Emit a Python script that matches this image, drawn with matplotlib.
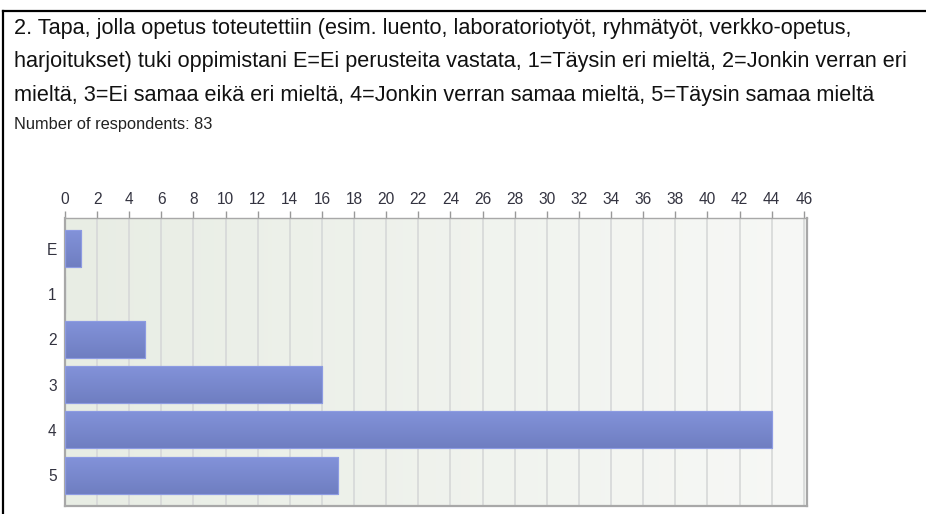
import numpy as np
import matplotlib.pyplot as plt
from matplotlib.lines import Line2D

# Data
kategoriat = ['E', '1', '2', '3', '4', '5']
vastaukset = [1, 0, 5, 16, 44, 17]
x_ticks = list(range(0, 48, 2))

otsikko = [
    '2. Tapa, jolla opetus toteutettiin (esim. luento, laboratoriotyöt, ryhmätyöt, verkko-opetus,',
    'harjoitukset) tuki oppimistani E=Ei perusteita vastata, 1=Täysin eri mieltä, 2=Jonkin verran eri',
    'mieltä, 3=Ei samaa eikä eri mieltä, 4=Jonkin verran samaa mieltä, 5=Täysin samaa mieltä',
]
vastaajat = 'Number of respondents: 83'

plt.rcParams['font.family'] = ['Liberation Sans', 'DejaVu Sans']

fig = plt.figure(figsize=(9.26, 5.14), dpi=100)
W, H = 926, 514

# outer frame (top and left lines)
fig.add_artist(Line2D([2.5 / W, 1], [1 - 10.5 / H, 1 - 10.5 / H], color='black', lw=1.6))
fig.add_artist(Line2D([2.5 / W, 2.5 / W], [0, 1 - 10.5 / H], color='black', lw=1.6))

# title lines
for i, rivi in enumerate(otsikko):
    fig.text(14 / W, 1 - (34 + i * 33.5) / H, rivi, fontsize=15.6, color='#111111',
             va='baseline', ha='left')
fig.text(14 / W, 1 - 129 / H, vastaajat, fontsize=11.8, color='#222222',
         va='baseline', ha='left')

ax = fig.add_axes([65 / W, 1 - 506 / H, (807 - 65) / W, (506 - 218) / H])

ypos = np.arange(len(kategoriat))
ax.set_xlim(0, 46.2)
ax.set_ylim(len(kategoriat) - 0.32, -0.68)

# background gradient
grad = np.linspace(0, 1, 256).reshape(1, -1)
bg = np.zeros((1, 256, 3))
c1 = np.array([0xe8, 0xed, 0xe4]) / 255
c2 = np.array([0xf7, 0xf8, 0xf6]) / 255
bg[0] = c1 + (c2 - c1) * grad.T
ax.imshow(bg, extent=[0, 46.2, len(kategoriat) - 0.32, -0.68], aspect='auto', zorder=0)

for x in x_ticks[1:]:
    ax.axvline(x, color='#d6d8d8', lw=1.2, zorder=1)

palkit = ax.barh(ypos, vastaukset, height=0.82, color='#7a89cf',
                 edgecolor='#8d9be2', lw=0.8, zorder=2)

# vertical gradient in bars
bar_grad = np.zeros((256, 1, 3))
t1 = np.array([0x83, 0x93, 0xda]) / 255
t2 = np.array([0x6f, 0x7e, 0xc1]) / 255
tt = np.linspace(0, 1, 256).reshape(-1, 1)
bar_grad[:, 0, :] = t1 + (t2 - t1) * tt
for p in palkit:
    if p.get_width() <= 0:
        continue
    x0, y0 = p.get_x(), p.get_y()
    im = ax.imshow(bar_grad, extent=[x0, x0 + p.get_width(), y0 + p.get_height(), y0],
                   aspect='auto', zorder=2.5)
    im.set_clip_path(p)
    ax.add_patch(plt.Rectangle((x0, y0), p.get_width(), p.get_height(), fill=False,
                               edgecolor='#8d9be2', lw=0.8, zorder=3))

ax.set_xlim(0, 46.2)
ax.set_ylim(len(kategoriat) - 0.32, -0.68)

ax.xaxis.tick_top()
ax.set_xticks(x_ticks)
ax.set_xticklabels([str(x) for x in x_ticks])
ax.set_yticks(ypos)
ax.set_yticklabels(kategoriat)
ax.tick_params(axis='x', length=5, width=1, color='#999999', labelsize=11.2,
               labelcolor='#333340', pad=3)
ax.tick_params(axis='y', length=0, labelsize=11.2, labelcolor='#333340', pad=6)

for s in ax.spines.values():
    s.set_color('#a8a8a8')
    s.set_linewidth(1.6)
ax.spines['top'].set_linewidth(1.0)

fig.savefig('out.png', dpi=100)
